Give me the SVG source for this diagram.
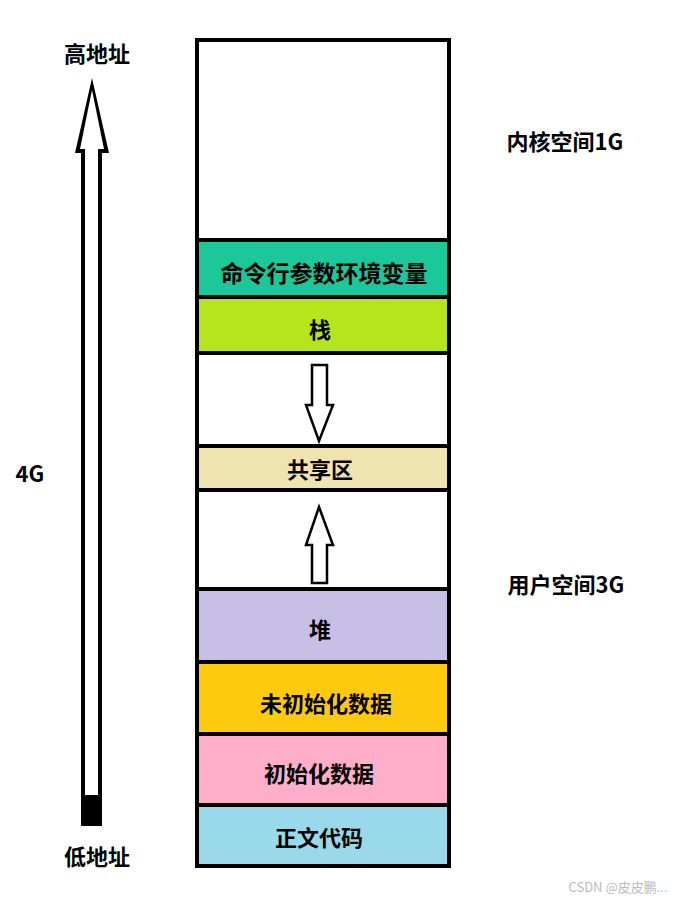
<svg xmlns="http://www.w3.org/2000/svg" width="680" height="902" viewBox="0 0 680 902">
<style>
text{font-family:"Noto Sans CJK SC","Liberation Sans",sans-serif;font-weight:bold;font-size:22px;fill:#000;text-anchor:middle;dominant-baseline:central}
.seg{stroke:#000;stroke-width:4}
.arr{fill:#fff;stroke:#000;stroke-width:2.5}
</style>
<rect width="680" height="902" fill="#fff"/>
<g id="kernel"><rect class="seg" x="197" y="40" width="252" height="200" fill="#fff"/></g>
<g id="env"><rect class="seg" x="197" y="240" width="252" height="57" fill="#1cc79a"/><text x="324" y="272" style="font-size:23px">命令行参数环境变量</text></g>
<g id="stack"><rect class="seg" x="197" y="297" width="252" height="56" fill="#b5e61d"/><text x="320" y="328">栈</text></g>
<g id="gap1"><rect class="seg" x="197" y="353" width="252" height="93" fill="#fff"/></g>
<g id="shared"><rect class="seg" x="197" y="446" width="252" height="44" fill="#efe4b0"/><text x="320" y="468">共享区</text></g>
<g id="gap2"><rect class="seg" x="197" y="490" width="252" height="99" fill="#fff"/></g>
<g id="heap"><rect class="seg" x="197" y="589" width="252" height="73" fill="#c8bfe7"/><text x="320" y="628">堆</text></g>
<g id="bss"><rect class="seg" x="197" y="662" width="252" height="72" fill="#ffc90e"/><text x="326" y="702">未初始化数据</text></g>
<g id="data"><rect class="seg" x="197" y="734" width="252" height="71" fill="#ffaec9"/><text x="319" y="772">初始化数据</text></g>
<g id="text"><rect class="seg" x="197" y="805" width="252" height="61" fill="#99d9ea"/><text x="319" y="836">正文代码</text></g>
<g id="connectors">
<polygon class="arr" points="312,365 327,365 327,405 333,405 319,441 306,405 312,405"/>
<polygon class="arr" points="319,507 333,545 327,545 327,583 312,583 312,545 306,545"/>
<polygon fill="#000" points="92,78 109,153 102,153 102,826 81,826 81,153 75,153"/>
<polygon fill="#fff" points="92,90 104,149 98,149 98,795 85,795 85,149 80,149"/>
</g>
<g id="labels">
<text x="97" y="52">高地址</text>
<text x="97" y="855">低地址</text>
<text x="30" y="472">4G</text>
<text x="565" y="140">内核空间1G</text>
<text x="566" y="583">用户空间3G</text>
<text x="618" y="886" style="font-size:13px;font-weight:normal;fill:#bbb">CSDN @皮皮鹏...</text>
</g>
</svg>
